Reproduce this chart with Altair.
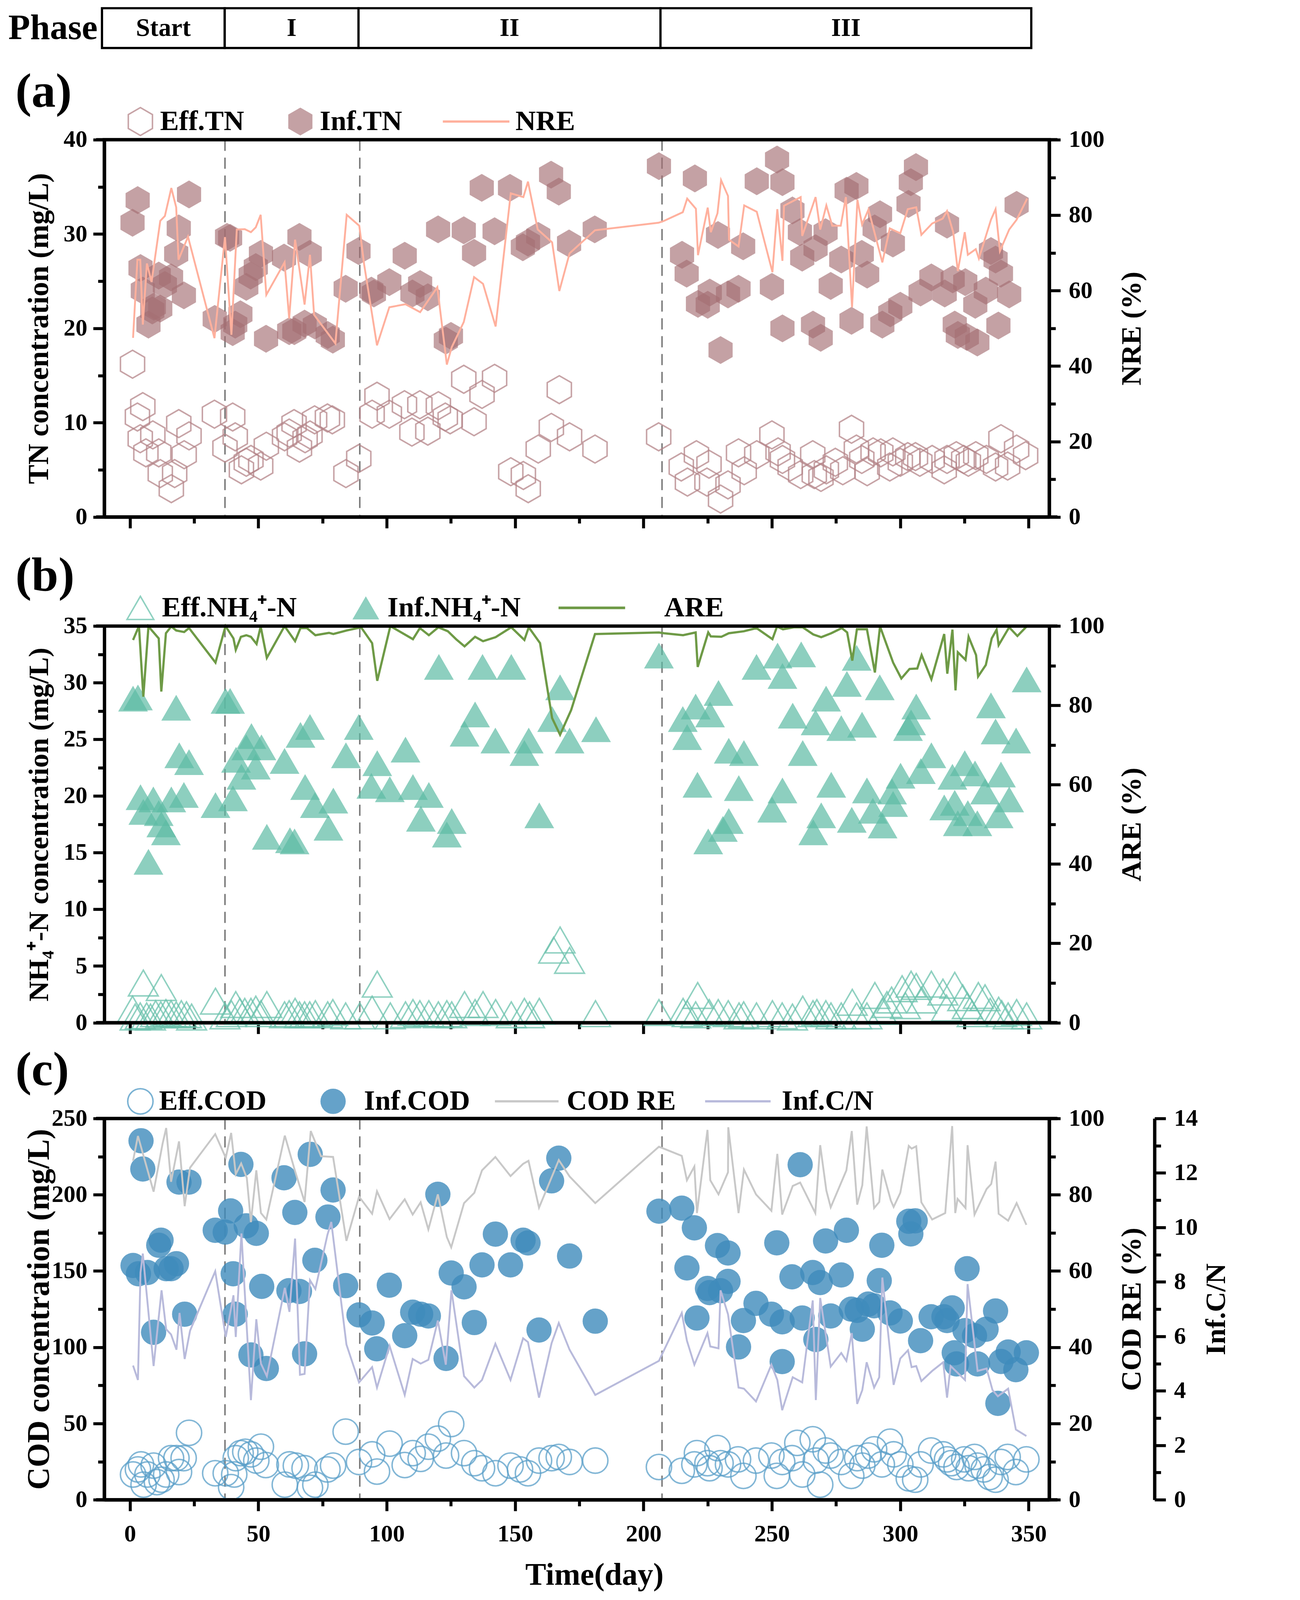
import altair as alt
import pandas as pd

FONT = "Liberation Serif"
K = 1 / 1.05          # reference-pixel -> chart-pixel factor


def px(v):
    return round(v * K, 2)


def area(v):
    return round(v * K * K, 1)


W_REF = 2540
W = px(W_REF)
HA_REF, HB_REF, HC_REF = 1014, 1066, 1025
H_A, H_B, H_C = px(HA_REF), px(HB_REF), px(HC_REF)
B_OFF = 36                       # extra room above panel (b) plot (reference px)
H_B_TOTAL = px(HB_REF + B_OFF)
H_P = px(96)
SPACING = px(257)
X_DOMAIN = [-10, 358]
EXT = 22                         # how far the horizontal frame lines overhang

# ---------------- Phase bar ----------------
phase_names = ["Start", "I", "II", "III"]
phase_start = [-10.9, 36.9, 89.0, 206.6]
phase_end = [36.9, 89.0, 206.6, 351.0]
phase_lines = [37.0, 89.5, 207.2]

# ---------------- Panel (a) TN ----------------
eff_tn_day = [1, 2.9, 4, 5, 6.2, 8.9, 11.2, 11.8, 16.1, 17.4,
              19, 21.1, 23, 32.9, 37, 40, 41, 43.4, 45.3, 47.1,
              50.9, 53.1, 60.2, 62, 63.9, 66, 68.2, 70.1, 71.9, 76.9,
              78.8, 84.1, 89.1, 94.3, 96.2, 101, 106.9, 109.8, 112.9, 116,
              120.1, 122.8, 124.7, 130, 134, 137.1, 142, 148.3, 153.2, 155.1,
              159, 164.1, 167.2, 171.2, 181.1, 205.9, 214.7, 217.1, 220.6, 224.7,
              225.5, 230, 232.9, 237, 239.2, 244.1, 250, 252.4, 254.1, 257.1,
              261.2, 265.9, 266.5, 269.1, 271.2, 274.7, 277.6, 281, 282.9, 285,
              287.1, 289.4, 292.4, 295.9, 297.1, 300, 302.9, 305.9, 307.6, 312.4,
              317.1, 318.2, 321.8, 324.7, 326.5, 329.4, 333.5, 337.1, 339.2, 341.8,
              345.3, 348.8]
eff_tn_val = [16.2, 10.6, 8.3, 11.7, 6.8, 8.7, 6.8, 4.6, 3.0, 4.6,
              9.9, 6.6, 8.6, 10.9, 7.3, 10.6, 8.5, 5.0, 5.8, 6.1,
              5.4, 7.5, 8.5, 8.9, 9.9, 7.3, 8.3, 8.7, 10.3, 10.5,
              10.3, 4.6, 6.2, 10.9, 12.8, 10.9, 11.9, 9.0, 11.9, 9.1,
              11.8, 10.6, 10.3, 14.6, 10.1, 13.0, 14.7, 4.8, 4.4, 3.0,
              7.2, 9.5, 13.5, 8.5, 7.2, 8.5, 5.3, 3.7, 6.6, 3.7,
              5.6, 1.9, 3.4, 6.8, 4.9, 6.6, 8.7, 6.9, 6.1, 5.3,
              4.5, 6.6, 4.5, 4.2, 5.0, 5.8, 4.9, 9.3, 7.2, 6.1,
              4.8, 6.9, 6.8, 5.3, 6.9, 5.8, 6.4, 6.4, 5.8, 6.1,
              5.0, 6.1, 6.5, 6.1, 5.8, 6.5, 6.1, 5.3, 8.3, 5.4,
              7.2, 6.5]
inf_tn_day = [1.0, 3.0, 4.1, 5.0, 7.2, 8.7, 9.3, 11.2, 11.8, 13.6,
              16.0, 18.0, 19.0, 21.0, 23.0, 33.0, 37.8, 39.0, 40.0, 41.0,
              43.0, 45.3, 47.0, 49.0, 51.0, 53.0, 60.0, 62.0, 64.0, 66.0,
              68.0, 70.0, 72.0, 77.0, 79.0, 84.0, 89.0, 94.0, 95.0, 101.0,
              107.0, 110.0, 113.0, 116.0, 120.0, 123.0, 125.0, 130.0, 134.0, 137.0,
              142.0, 148.0, 153.0, 155.0, 159.0, 164.0, 167.0, 171.0, 181.0, 206.0,
              215.0, 216.8, 220.0, 221.2, 225.0, 225.8, 229.0, 230.0, 232.9, 237.0,
              238.8, 244.1, 250.0, 252.0, 254.1, 254.1, 258.0, 260.9, 261.8, 266.0,
              267.0, 269.0, 270.9, 272.9, 277.0, 279.1, 281.0, 282.9, 285.0, 287.1,
              290.0, 292.1, 293.0, 296.1, 297.1, 300.0, 303.2, 304.1, 306.1, 307.9,
              312.1, 317.3, 318.2, 320.4, 321.2, 322.4, 325.3, 325.9, 329.2, 330.0,
              333.3, 335.3, 337.1, 338.2, 339.2, 342.4, 345.3]
inf_tn_val = [31.2, 33.6, 26.4, 24.0, 20.4, 21.9, 22.3, 25.6, 22.1, 24.6,
              25.4, 27.9, 30.6, 23.5, 34.2, 21.0, 29.7, 29.6, 19.6, 20.4,
              21.5, 24.4, 25.6, 26.5, 27.9, 18.9, 27.5, 19.7, 19.7, 29.7,
              20.5, 27.9, 20.3, 19.3, 18.8, 24.2, 28.2, 24.0, 23.7, 24.9,
              27.7, 23.7, 24.7, 23.3, 30.5, 18.7, 19.2, 30.4, 28.0, 34.9,
              30.3, 34.9, 28.6, 29.1, 29.8, 36.3, 34.5, 29.0, 30.5, 37.2,
              27.8, 25.8, 35.9, 22.6, 22.5, 23.8, 29.9, 17.7, 23.6, 24.2,
              28.7, 35.6, 24.4, 37.9, 35.5, 20.0, 32.5, 30.2, 27.5, 20.4,
              28.5, 19.0, 30.2, 24.5, 27.3, 34.6, 20.8, 35.1, 27.9, 25.7,
              30.6, 32.1, 20.4, 21.6, 29.0, 22.4, 33.2, 35.5, 37.1, 23.8,
              25.4, 23.7, 31.0, 25.2, 20.4, 19.3, 24.9, 19.1, 22.5, 18.5,
              24.0, 28.2, 27.3, 20.3, 25.8, 23.6, 33.1]
nre_day = [1.2, 2.9, 4.0, 5.0, 6.6, 8.4, 11.8, 13.6, 16.1, 18.0,
           18.9, 22.6, 32.9, 37.0, 39.5, 41.6, 44.7, 47.1, 49.0, 50.9,
           53.1, 60.2, 62.0, 64.3, 68.0, 70.1, 71.7, 80.0, 84.4, 89.3,
           91.2, 96.2, 101.0, 107.3, 113.0, 119.7, 123.4, 125.3, 130.0, 134.0,
           137.5, 142.4, 148.3, 153.2, 155.0, 158.8, 164.4, 167.2, 171.2, 181.1,
           205.9, 208.0, 215.3, 217.0, 220.4, 221.2, 225.0, 226.2, 228.8, 230.2,
           232.9, 233.3, 237.0, 239.2, 244.1, 250.2, 252.1, 254.1, 254.7, 261.2,
           261.8, 267.0, 268.8, 271.2, 273.5, 276.8, 278.8, 281.2, 283.3, 285.1,
           287.6, 293.0, 295.9, 300.0, 302.9, 306.2, 308.2, 312.4, 316.5, 318.2,
           320.6, 322.4, 325.1, 326.3, 329.4, 330.6, 335.3, 337.1, 338.8, 342.4,
           345.3, 349.4]
nre_val = [47.5, 68.2, 68.2, 51.0, 67.2, 62.3, 78.5, 79.8, 87.2, 82.1,
           68.2, 74.3, 47.4, 74.2, 48.3, 76.2, 76.3, 75.5, 76.8, 80.1,
           58.9, 67.5, 52.6, 73.5, 56.3, 69.5, 53.6, 46.0, 80.1, 77.2,
           66.9, 45.5, 55.6, 56.4, 54.3, 60.9, 40.4, 45.0, 51.7, 63.6,
           61.8, 50.5, 85.8, 84.8, 88.9, 76.2, 72.8, 59.9, 69.9, 76.0,
           78.0, 78.5, 80.8, 84.4, 81.7, 69.4, 82.0, 75.5, 80.5, 89.3,
           85.1, 73.5, 71.7, 82.6, 80.9, 64.9, 81.6, 67.9, 82.5, 84.8,
           74.5, 84.8, 76.2, 82.6, 77.2, 77.2, 84.8, 55.6, 84.1, 77.5,
           81.5, 67.5, 76.5, 75.2, 81.6, 82.1, 74.8, 77.8, 79.1, 81.1,
           75.5, 65.2, 75.5, 69.5, 71.0, 68.5, 78.8, 81.6, 70.5, 76.2,
           78.8, 84.4]

# ---------------- Panel (b) NH4+-N ----------------
eff_nh_day = [1.0, 2.0, 4.0, 5.2, 6.5, 8.0, 10.0, 12.2, 12.0, 14.0,
              16.0, 18.0, 20.0, 22.0, 24.0, 33.3, 37.0, 39.5, 41.2, 42.8,
              44.7, 47.1, 49.0, 51.0, 53.3, 60.2, 62.0, 64.3, 66.0, 68.0,
              70.0, 72.2, 77.0, 79.0, 84.0, 89.5, 94.3, 96.3, 101.4, 107.3,
              110.2, 112.9, 116.4, 120.1, 123.4, 125.3, 130.3, 134.4, 137.5, 142.4,
              148.5, 153.6, 155.6, 159.4, 165.0, 167.5, 171.2, 181.3, 206.0, 215.4,
              217.0, 220.3, 221.1, 225.6, 229.1, 233.0, 237.2, 239.0, 244.0, 250.2,
              254.0, 258.0, 262.0, 266.0, 267.5, 271.0, 273.0, 277.0, 281.3, 283.0,
              287.0, 290.1, 293.0, 294.8, 296.6, 300.7, 302.0, 304.2, 306.2, 308.3,
              312.1, 316.6, 318.0, 321.2, 324.3, 326.1, 328.0, 330.4, 333.0, 335.0,
              338.3, 339.5, 342.0, 345.3, 349.2]
eff_nh_val = [1.2, 0.5, 0.6, 3.5, 0.6, 0.5, 0.8, 3.1, 0.7, 0.9,
              0.8, 0.7, 0.8, 0.7, 0.5, 1.9, 0.6, 0.8, 1.6, 1.0,
              1.0, 1.0, 1.2, 0.8, 1.6, 0.7, 0.8, 1.0, 0.7, 0.7,
              0.7, 0.8, 0.7, 0.9, 0.6, 0.6, 1.2, 3.4, 0.6, 0.7,
              0.9, 0.8, 0.8, 0.7, 0.8, 0.7, 1.6, 0.9, 1.6, 0.9,
              0.7, 1.0, 0.7, 1.0, 6.4, 7.3, 5.5, 0.8, 0.9, 1.0,
              0.8, 0.7, 2.4, 0.9, 0.9, 0.8, 0.6, 0.7, 0.6, 0.8,
              0.6, 0.5, 1.2, 0.8, 0.9, 0.8, 0.6, 0.6, 1.8, 0.6,
              0.6, 2.4, 1.0, 1.6, 2.0, 3.0, 1.5, 3.4, 3.2, 2.0,
              3.4, 2.7, 1.3, 3.3, 2.2, 1.5, 0.8, 2.4, 2.2, 1.0,
              1.1, 0.8, 0.6, 0.9, 0.6]
inf_nh_day = [1.2, 3.1, 18.0, 4.1, 9.1, 5.2, 11.2, 12.2, 14.0, 16.1,
              21.0, 19.2, 23.0, 7.2, 33.3, 37.2, 39.0, 40.1, 41.3, 43.4,
              45.3, 47.3, 49.0, 51.2, 53.3, 60.2, 62.3, 64.1, 66.4, 70.1,
              68.2, 72.0, 79.2, 77.3, 84.1, 89.1, 96.3, 94.0, 101.2, 107.3,
              110.2, 116.4, 113.3, 125.3, 123.4, 120.3, 137.3, 148.5, 134.4, 130.3,
              142.3, 155.3, 153.6, 159.4, 167.5, 164.4, 171.2, 181.5,
              206.0, 220.3, 215.3, 217.0, 225.9, 229.2, 221.0, 233.2, 239.1, 237.1,
              233.2, 230.9, 225.2, 244.0, 252.2, 261.4, 254.1, 258.1, 262.0, 254.1,
              250.1, 271.1, 267.0, 277.0, 279.2, 283.0, 285.1, 273.1, 269.2, 266.1,
              281.1, 287.0, 289.3, 293.1, 292.0, 296.8, 297.2, 300.1, 303.0, 304.2,
              306.2, 308.0, 312.1, 320.3, 325.1, 329.1, 317.1, 321.2, 322.4, 326.3,
              330.0, 333.0, 339.2, 342.4, 338.3, 335.3, 337.1, 345.1, 349.2]
inf_nh_val = [28.6, 28.7, 27.8, 19.9, 19.7, 18.6, 18.5, 17.5, 16.8, 19.7,
              20.1, 23.6, 23.0, 14.2, 19.2, 28.4, 28.4, 19.8, 23.2, 21.7,
              24.3, 25.3, 22.6, 24.3, 16.4, 23.1, 16.1, 16.0, 25.4, 26.1,
              20.8, 19.2, 19.6, 17.2, 23.6, 26.1, 22.9, 20.9, 20.6, 24.1,
              20.8, 20.1, 18.0, 17.8, 16.6, 31.4, 31.4, 31.4, 27.2, 25.5,
              24.9, 24.9, 23.8, 18.3, 29.6, 26.8, 24.9, 25.9,
              32.4, 27.9, 26.8, 25.2, 27.2, 29.1, 21.0, 24.0, 23.8, 20.7,
              17.8, 17.1, 16.0, 31.4, 32.4, 32.5, 30.6, 27.1, 23.8, 20.5,
              18.8, 28.6, 26.5, 26.0, 29.9, 32.2, 26.3, 21.0, 18.3, 16.8,
              17.9, 20.5, 18.7, 17.4, 29.6, 20.4, 19.3, 21.8, 26.0, 26.5,
              27.9, 22.2, 23.6, 21.7, 22.9, 22.0, 19.0, 19.4, 17.6, 18.5,
              17.6, 20.4, 21.9, 19.7, 18.3, 28.0, 25.7, 24.9, 30.3]
are_day = [1.2, 3.5, 5.2, 7.2, 11.2, 12.2, 14.0, 16.1, 18.0, 21.1,
           23.0, 33.3, 37.2, 40.3, 41.2, 43.2, 45.3, 47.1, 49.3, 50.9,
           53.3, 60.2, 64.3, 66.4, 68.9, 72.2, 77.5, 79.2, 84.4, 90.0,
           94.3, 96.3, 101.4, 110.2, 112.9, 116.4, 120.1, 123.8, 127.0, 130.3,
           134.4, 137.5, 142.4, 148.5, 153.6, 155.3, 159.7, 164.4, 167.5, 171.8,
           181.1, 206.0, 208.0, 215.4, 220.3, 221.1, 225.2, 226.2, 230.3, 233.2,
           239.1, 244.0, 250.2, 252.0, 254.3, 258.5, 262.0, 266.1, 269.2, 273.1,
           277.2, 279.3, 281.3, 283.1, 287.0, 290.1, 292.1, 297.2, 300.4, 303.6,
           306.6, 308.3, 312.1, 317.1, 318.3, 320.3, 321.5, 322.4, 325.4, 326.6,
           329.5, 330.3, 333.3, 335.6, 337.5, 338.3, 342.4, 345.6, 349.2]
are_val = [96.5, 100, 82.2, 99.9, 96.9, 83.5, 98.2, 99.9, 98.9, 98.5,
           99.5, 90.8, 100, 96.9, 94.0, 97.3, 97.7, 97.3, 95.5, 99.9,
           92.0, 100, 96.2, 99.5, 99.5, 97.7, 98.3, 98.0, 98.9, 99.7,
           95.7, 86.2, 100, 96.7, 99.5, 97.7, 99.7, 98.7, 96.7, 94.9,
           97.3, 96.2, 97.2, 99.7, 96.5, 99.7, 95.7, 76.8, 72.6, 78.8,
           98.0, 98.4, 98.2, 97.7, 98.4, 89.7, 98.4, 97.4, 97.3, 98.2,
           98.7, 99.5, 96.7, 99.9, 99.2, 99.7, 99.7, 97.9, 97.2, 98.2,
           99.5, 98.4, 91.3, 99.2, 99.2, 88.3, 99.9, 90.8, 86.8, 89.2,
           89.3, 92.7, 86.6, 98.0, 88.0, 99.1, 83.8, 93.4, 91.5, 97.3,
           92.7, 87.3, 90.2, 96.9, 99.1, 95.2, 99.7, 97.5, 99.9]

# ---------------- Panel (c) COD ----------------
eff_cod_day = [1.2, 3.1, 4.3, 5.3, 6.8, 9.2, 10.5, 12.3, 14.1, 16.0,
               18.1, 19.1, 20.9, 23.0, 33.2, 37.3, 39.4, 40.6, 41.2, 43.1,
               44.9, 47.1, 49.2, 51.0, 52.9, 60.3, 62.1, 64.6, 68.0, 70.1,
               72.2, 76.9, 79.1, 84.0, 89.2, 94.3, 96.2, 101.1, 107.0, 110.1,
               113.2, 116.2, 119.9, 123.1, 125.1, 130.1, 134.1, 137.1, 142.3, 148.2,
               151.9, 155.0, 159.3, 164.2, 167.0, 171.2, 181.2, 206.0, 214.9, 219.8,
               220.8, 224.9, 225.7, 228.8, 230.0, 232.9, 236.8, 238.9, 243.8, 249.8,
               251.9, 254.0, 257.8, 259.9, 261.8, 265.9, 267.1, 268.8, 270.9, 272.9,
               277.0, 280.9, 283.2, 285.2, 287.5, 289.8, 292.8, 296.0, 297.4, 300.0,
               303.3, 305.8, 307.9, 312.0, 316.7, 318.2, 319.8, 321.9, 324.9, 326.6,
               328.9, 330.1, 332.5, 334.8, 337.1, 339.2, 341.8, 345.0, 349.1]
eff_cod_val = [16.6, 19.9, 23.2, 9.9, 16.6, 22.4, 11.6, 13.2, 16.6, 27.3,
               27.3, 18.2, 27.3, 43.9, 17.4, 17.4, 8.3, 16.6, 27.3, 30.6,
               31.5, 29.8, 25.7, 34.8, 22.8, 9.9, 23.2, 22.4, 20.7, 7.9,
               9.9, 19.9, 22.4, 44.7, 24.8, 29.8, 18.5, 36.8, 22.8, 30.6,
               26.8, 34.8, 40.1, 29.0, 49.7, 30.6, 24.0, 20.7, 17.4, 22.4,
               19.9, 17.4, 25.7, 27.3, 28.1, 24.8, 25.7, 21.5, 19.0, 23.2,
               30.6, 24.0, 20.7, 33.9, 24.0, 23.2, 26.5, 15.7, 25.7, 29.0,
               15.7, 24.8, 27.3, 37.3, 16.6, 39.7, 25.7, 9.9, 32.3, 29.0,
               24.8, 15.7, 27.3, 22.4, 29.0, 33.1, 23.2, 38.1, 29.8, 23.2,
               14.1, 13.2, 23.2, 32.3, 29.8, 26.5, 24.0, 21.5, 26.5, 20.7,
               28.1, 22.4, 19.9, 14.9, 13.2, 24.8, 28.1, 18.2, 26.5]
inf_cod_day = [4.3, 5.0, 19.1, 23.0, 43.2, 60.0, 70.2, 79.1, 64.2, 77.1,
               39.2, 33.2, 37.1, 45.3, 49.2, 12.1, 11.2, 1.2, 3.3, 6.8,
               14.1, 16.0, 18.1, 9.2, 21.3, 40.2, 41.0, 51.3, 61.9, 66.0,
               72.0, 47.1, 53.1, 68.0, 84.0, 89.2, 94.3, 96.1, 101.0, 107.0,
               110.1, 113.2, 116.2, 123.1, 119.9, 125.1, 130.1, 134.1, 137.1, 142.3,
               148.2, 153.1, 155.0, 159.3, 164.2, 167.0, 171.2, 181.2,
               206.0, 214.9, 219.8, 228.8, 232.9, 216.9, 224.9, 225.7, 230.0, 232.9,
               220.8, 237.0, 238.9, 243.8, 249.8, 251.9, 254.0, 254.0, 257.8, 261.0,
               261.8, 265.9, 268.8, 267.1, 270.9, 272.9, 277.0, 279.0, 280.9, 283.2,
               285.2, 287.5, 289.8, 291.8, 292.8, 296.0, 300.0, 303.3, 305.8, 304.1,
               307.9, 312.0, 317.0, 318.2, 320.2, 326.0, 321.0, 321.9, 325.2, 328.9,
               330.1, 333.4, 337.1, 339.2, 338.0, 342.0, 345.0, 349.1]
inf_cod_val = [235.4, 216.9, 208.3, 208.3, 219.9, 211.1, 226.5, 203.1, 188.4, 185.4,
               189.4, 176.7, 175.5, 179.6, 174.7, 170.2, 166.9, 153.6, 148.2, 149.0,
               151.5, 151.5, 154.8, 109.8, 121.7, 148.2, 121.7, 139.9, 137.1, 136.6,
               157.0, 95.0, 86.1, 95.7, 140.4, 121.2, 115.9, 99.0, 140.7, 107.6,
               123.0, 121.7, 120.5, 92.7, 200.3, 148.7, 139.6, 116.2, 154.0, 174.2,
               154.0, 170.2, 168.4, 111.3, 209.1, 224.0, 159.8, 117.1,
               189.2, 191.2, 178.3, 166.7, 161.8, 152.0, 138.6, 135.8, 137.1, 143.2,
               119.2, 100.2, 117.5, 128.8, 121.7, 168.5, 116.7, 90.6, 146.2, 219.7,
               119.2, 149.0, 142.4, 105.1, 169.7, 120.5, 147.4, 176.7, 125.0, 124.2,
               111.8, 128.3, 127.2, 143.7, 166.9, 122.5, 117.2, 182.6, 182.9, 174.3,
               104.3, 120.0, 120.0, 117.5, 125.8, 151.5, 96.4, 89.1, 110.9, 107.6,
               89.1, 111.8, 123.8, 90.7, 63.2, 96.9, 85.3, 96.4]
codre_day = [1.2, 3.1, 9.2, 12.7, 14.1, 16.0, 19.1, 21.3, 23.4, 33.2,
             37.3, 39.4, 41.2, 43.3, 45.5, 47.1, 49.2, 51.0, 53.1, 60.3,
             64.2, 68.0, 70.4, 74.4, 79.1, 84.3, 89.2, 94.3, 96.2, 101.1,
             107.0, 110.1, 113.2, 116.2, 119.9, 123.4, 125.1, 130.1, 134.1, 137.1,
             142.3, 148.2, 153.1, 155.2, 159.3, 167.0, 171.2, 181.2, 206.0, 214.9,
             216.9, 219.8, 220.8, 224.9, 226.0, 229.2, 232.9, 233.0, 237.0, 239.1,
             243.8, 249.8, 252.1, 254.0, 258.1, 261.0, 266.9, 268.8, 271.2, 272.9,
             279.0, 281.1, 283.2, 285.2, 286.9, 289.8, 291.8, 293.0, 296.3, 297.4,
             300.0, 303.3, 304.4, 306.2, 308.2, 312.4, 317.5, 320.2, 321.4, 322.3,
             325.4, 326.2, 328.9, 333.6, 335.4, 337.1, 338.3, 342.0, 345.3, 349.1]
codre_val = [88.9, 95.4, 80.8, 93.4, 97.5, 83.4, 94.0, 77.0, 87.1, 95.9,
             89.7, 96.2, 85.4, 88.2, 84.4, 72.8, 86.4, 75.2, 73.5, 95.5,
             86.4, 78.1, 96.7, 90.1, 89.9, 67.9, 79.5, 75.0, 80.9, 73.6,
             78.8, 74.8, 78.0, 70.9, 80.1, 68.9, 66.2, 77.8, 80.5, 86.4,
             89.9, 84.9, 88.1, 88.9, 76.6, 89.1, 84.8, 77.8, 92.6, 90.2,
             83.8, 87.4, 75.2, 97.0, 83.8, 80.1, 85.9, 97.7, 75.2, 86.6,
             80.1, 75.8, 90.7, 74.8, 82.3, 83.2, 75.2, 93.0, 81.1, 76.7,
             86.4, 96.7, 77.4, 82.5, 97.9, 76.5, 78.1, 86.6, 78.5, 76.8,
             80.5, 92.8, 92.1, 92.7, 78.0, 73.5, 75.2, 98.0, 75.2, 78.9,
             76.5, 93.0, 74.8, 81.5, 82.8, 88.7, 75.0, 73.2, 77.8, 72.1]
cn_day = [1.2, 3.1, 4.1, 5.0, 9.2, 12.3, 14.1, 16.0, 18.1, 19.3,
          21.3, 23.4, 33.2, 37.3, 40.3, 41.2, 43.4, 47.1, 49.2, 51.0,
          53.3, 60.3, 62.1, 64.3, 66.2, 68.0, 70.1, 72.2, 76.9, 78.4,
          84.3, 89.2, 94.3, 96.2, 101.1, 107.0, 110.1, 113.2, 116.2, 119.9,
          123.0, 125.2, 130.1, 134.1, 137.1, 142.3, 148.2, 153.1, 155.0, 159.3,
          164.2, 167.0, 171.2, 181.2, 206.0, 214.9, 216.9, 219.8, 224.9, 226.0,
          229.2, 230.0, 232.9, 237.0, 239.1, 243.8, 249.8, 252.1, 254.0, 258.1,
          261.8, 265.9, 267.1, 268.8, 272.9, 277.0, 279.0, 281.1, 283.2, 285.2,
          286.9, 289.8, 291.8, 293.0, 295.1, 297.4, 300.0, 303.0, 304.4, 306.2,
          308.2, 312.4, 316.7, 318.2, 319.6, 325.2, 326.2, 330.1, 333.6, 335.9,
          338.0, 342.0, 345.0, 349.1]
cn_val = [4.93, 4.40, 8.34, 9.04, 4.91, 7.69, 6.26, 6.07, 5.51, 6.86,
          5.17, 6.21, 8.39, 5.98, 7.51, 5.98, 9.78, 3.66, 6.63, 5.00,
          4.54, 7.78, 6.90, 9.59, 4.59, 4.62, 8.06, 7.74, 9.73, 10.2,
          5.70, 4.31, 4.87, 4.12, 5.65, 3.85, 5.17, 5.00, 5.14, 6.58,
          4.96, 7.69, 4.54, 4.12, 4.40, 5.73, 4.40, 5.93, 5.79, 3.75,
          5.75, 6.49, 5.51, 3.85, 5.10, 6.86, 5.84, 4.96, 6.12, 5.63,
          5.56, 7.69, 6.81, 4.12, 4.08, 3.61, 4.96, 4.40, 3.29, 4.50,
          4.31, 7.32, 3.66, 7.41, 4.89, 5.39, 5.10, 6.12, 3.52, 4.03,
          5.05, 4.12, 4.50, 8.16, 6.26, 4.22, 5.19, 5.49, 4.87, 4.91,
          4.36, 4.73, 5.05, 3.75, 4.91, 4.40, 7.92, 4.73, 4.82, 4.03,
          3.80, 4.08, 2.58, 2.34]

# ---------------- styling ----------------
HEX = "M0,-1L0.866,-0.5L0.866,0.5L0,1L-0.866,0.5L-0.866,-0.5Z"
TRI = "M0,-0.866L1,0.866L-1,0.866Z"
TN_INF, TN_EFF, NRE_C = "#a46f73", "#b58589", "#ffb09d"
NH_INF, NH_EFF, ARE_C = "#5dbba4", "#6cc2ad", "#6e9a46"
COD_INF, COD_EFF, CODRE_C, CN_C = "#3f8bbb", "#5a9fc9", "#c8c8c8", "#b8badb"
TICK_MAJOR, TICK_MINOR = px(30), px(17)
SW = px(4)


def frame(d, v):
    n = min(len(d), len(v))
    return pd.DataFrame({"day": d[:n], "v": v[:n]})


one = pd.DataFrame({"k": [0]})
X_TICKS = list(range(0, 351, 25))
X_MAJOR = "datum.value % 50 === 0"


def xscale():
    return alt.Scale(domain=X_DOMAIN, nice=False, zero=False)


def yscale(lo, hi, top=0.0, bottom=None):
    kw = dict(domain=[lo, hi], nice=False)
    if bottom is not None:
        kw["range"] = [bottom, top]
    return alt.Scale(**kw)


def x_axis(show_labels):
    kw = dict(values=X_TICKS,
              tickSize={"condition": {"test": X_MAJOR, "value": TICK_MAJOR}, "value": TICK_MINOR})
    if show_labels:
        kw.update(labelExpr=f"{X_MAJOR} ? datum.label : ''", labelPadding=px(31), title="Time(day)",
                  titleX=px(1317), titleY=px(203), titleBaseline="middle", titleAlign="center",
                  titleFontSize=px(84))
    else:
        kw.update(labels=False, title=None)
    return alt.Axis(**kw)


def y_axis(title, vmax, step, major, title_y, orient="left", offset=0, title_x=-175, tsize=78):
    n = int(round(vmax / step))
    vals = [round(i * step, 4) for i in range(n + 1)]
    test = f"abs(datum.value/{major} - round(datum.value/{major})) < 0.001"
    return alt.Axis(values=vals, title=title, orient=orient, offset=px(offset), format="d",
                    labelExpr=f"{test} ? datum.label : ''",
                    tickSize={"condition": {"test": test, "value": TICK_MAJOR}, "value": TICK_MINOR},
                    labelPadding=px(16) if orient == "left" else px(22),
                    titleAngle=270, titleX=px(title_x), titleY=title_y, titleFontSize=px(tsize),
                    titleAlign="center", titleBaseline="middle")


def pts(df, shape, size, color, filled, opacity, xax, yenc):
    mk = dict(shape=shape, size=area(size), filled=filled, color=color, opacity=opacity)
    if not filled:
        mk["strokeWidth"] = SW
    return alt.Chart(df).mark_point(**mk).encode(
        x=alt.X("day:Q", scale=xscale(), axis=xax), y=yenc)


def line(df, color, width, xax, yenc):
    return alt.Chart(df).mark_line(color=color, strokeWidth=px(width)).encode(
        x=alt.X("day:Q", scale=xscale(), axis=xax), y=yenc)


def dashed(xax, y0=None, y1=None):
    enc = dict(x=alt.X("day:Q", scale=xscale(), axis=xax))
    if y0 is not None:
        enc.update(y=alt.value(y0), y2=alt.value(y1))
    return alt.Chart(pd.DataFrame({"day": phase_lines})).mark_rule(
        color="#7a7a7a", strokeWidth=px(4), strokeDash=[px(30), px(18)]).encode(**enc)


def sym(shape, size, color, filled, opacity, x, y):
    mk = dict(shape=shape, size=area(size), filled=filled, color=color, opacity=opacity)
    if not filled:
        mk["strokeWidth"] = SW
    return alt.Chart(one).mark_point(**mk).encode(x=alt.value(px(x)), y=alt.value(px(y)))


def txt(s, x, y, size, align="left"):
    return alt.Chart(one).mark_text(text=s, font=FONT, fontSize=px(size), fontWeight="bold",
                                    align=align, baseline="middle", color="black").encode(
        x=alt.value(px(x)), y=alt.value(px(y)))


def seg(color, sw, x1, x2, y):
    return alt.Chart(one).mark_rule(color=color, strokeWidth=px(sw)).encode(
        x=alt.value(px(x1)), x2=alt.value(px(x2)), y=alt.value(px(y)))


def frame_line(y):
    return seg("black", 9, -EXT, W_REF + EXT, y)


LEG = 76

# ---------- phase chart ----------
phase_df = pd.DataFrame({"name": phase_names, "start": phase_start, "end": phase_end})
phase_rect = alt.Chart(phase_df).mark_rect(fill="white", stroke="black", strokeWidth=px(6)).encode(
    x=alt.X("start:Q", scale=xscale(), axis=None), x2="end:Q",
    y=alt.value(0), y2=alt.value(px(107)))
phase_txt = alt.Chart(phase_df).transform_calculate(mid="(datum.start + datum.end) / 2").mark_text(
    font=FONT, fontSize=px(68), fontWeight="bold", baseline="middle", color="black").encode(
    x=alt.X("mid:Q", scale=xscale(), axis=None), y=alt.value(px(55)), text="name:N")
phase = alt.layer(phase_rect, phase_txt, txt("Phase", -18, 55, 96, "right")).properties(
    width=W, height=H_P, view=alt.ViewBackground(strokeOpacity=0))

# ---------- panel a ----------
xa = x_axis(False)
ya = alt.Y("v:Q", scale=yscale(0, 40),
           axis=y_axis("TN concentration (mg/L)", 40, 5, 10, H_A / 2))
ya2 = alt.Y("v:Q", scale=yscale(0, 100),
            axis=y_axis("NRE (%)", 100, 10, 20, H_A / 2, orient="right", title_x=222, tsize=76))
inner_a = alt.layer(dashed(xa),
                    pts(frame(eff_tn_day, eff_tn_val), HEX, 5625, TN_EFF, False, 0.75, xa, ya),
                    pts(frame(inf_tn_day, inf_tn_val), HEX, 5625, TN_INF, True, 0.65, xa, ya))
panel_a = alt.layer(
    inner_a,
    line(frame(nre_day, nre_val), NRE_C, 5, xa, ya2),
    frame_line(0), frame_line(HA_REF),
    sym(HEX, 5625, TN_EFF, False, 0.75, 97, -49), txt("Eff.TN", 150, -49, LEG),
    sym(HEX, 5625, TN_INF, True, 0.65, 527, -49), txt("Inf.TN", 579, -49, LEG),
    seg(NRE_C, 6, 910, 1089, -49), txt("NRE", 1105, -49, LEG),
    txt("(a)", -239, -128, 130),
).resolve_scale(y="independent").properties(width=W, height=H_A)

# ---------- panel b (plot area starts B_OFF below the top of its box) ----------
b_top = px(B_OFF)
xb = x_axis(False)
yb = alt.Y("v:Q", scale=yscale(0, 35, top=b_top, bottom=H_B_TOTAL),
           axis=y_axis("NH\u2084\u207a-N concentration (mg/L)", 35, 2.5, 5, b_top + H_B / 2, tsize=76))
yb2 = alt.Y("v:Q", scale=yscale(0, 100, top=b_top, bottom=H_B_TOTAL),
            axis=y_axis("ARE (%)", 100, 10, 20, b_top + H_B / 2, orient="right", title_x=222, tsize=76))
inner_b = alt.layer(dashed(xb, b_top, H_B_TOTAL),
                    pts(frame(eff_nh_day, eff_nh_val), TRI, 6400, NH_EFF, False, 0.75, xb, yb),
                    pts(frame(inf_nh_day, inf_nh_val), TRI, 6400, NH_INF, True, 0.7, xb, yb))
panel_b = alt.layer(
    inner_b,
    line(frame(are_day, are_val), ARE_C, 6, xb, yb2),
    frame_line(B_OFF), frame_line(B_OFF + HB_REF),
    sym(TRI, 5184, NH_EFF, False, 0.75, 97, B_OFF - 49), txt("Eff.NH\u2084\u207a-N", 155, B_OFF - 49, LEG),
    sym(TRI, 5184, NH_INF, True, 0.7, 703, B_OFF - 49), txt("Inf.NH\u2084\u207a-N", 761, B_OFF - 49, LEG),
    seg(ARE_C, 7, 1221, 1400, B_OFF - 49), txt("ARE", 1505, B_OFF - 49, LEG),
    txt("(b)", -239, B_OFF - 134, 130),
).resolve_scale(y="independent").properties(
    width=W, height=H_B_TOTAL, view=alt.ViewBackground(strokeOpacity=0))

# ---------- panel c ----------
xc = x_axis(True)
yc = alt.Y("v:Q", scale=yscale(0, 250),
           axis=y_axis("COD concentration (mg/L)", 250, 25, 50, H_C / 2, tsize=84))
yc2 = alt.Y("v:Q", scale=yscale(0, 100),
            axis=y_axis("COD RE (%)", 100, 10, 20, H_C / 2, orient="right", title_x=222, tsize=76))
yc3 = alt.Y("v:Q", scale=yscale(0, 14),
            axis=y_axis("Inf.C/N", 14, 1, 2, H_C / 2, orient="right", offset=283, title_x=166, tsize=76))
inner_c = alt.layer(dashed(xc),
                    pts(frame(eff_cod_day, eff_cod_val), "circle", 4624, COD_EFF, False, 0.75, xc, yc),
                    pts(frame(inf_cod_day, inf_cod_val), "circle", 4624, COD_INF, True, 0.8, xc, yc))
panel_c = alt.layer(
    inner_c,
    line(frame(codre_day, codre_val), CODRE_C, 5, xc, yc2),
    line(frame(cn_day, cn_val), CN_C, 5, xc, yc3),
    frame_line(0), frame_line(HC_REF),
    sym("circle", 4624, COD_EFF, False, 0.8, 97, -46), txt("Eff.COD", 147, -46, LEG),
    sym("circle", 4624, COD_INF, True, 0.8, 615, -46), txt("Inf.COD", 698, -46, LEG),
    seg(CODRE_C, 6, 1050, 1221, -46), txt("COD RE", 1243, -46, LEG),
    seg(CN_C, 6, 1615, 1791, -46), txt("Inf.C/N", 1821, -46, LEG),
    txt("(c)", -239, -128, 130),
).resolve_scale(y="independent").properties(width=W, height=H_C)

chart = alt.vconcat(phase, panel_a, panel_b, panel_c, spacing=SPACING, bounds="flush").properties(
    padding={"left": 13, "top": 10, "right": 5, "bottom": 5}
).configure_axis(
    domainColor="black", domainWidth=px(9), tickColor="black", tickWidth=px(8),
    labelFont=FONT, labelFontSize=px(64), labelFontWeight="bold", labelColor="black",
    titleFont=FONT, titleFontSize=px(80), titleFontWeight="bold", titleColor="black", grid=False
).configure_view(stroke="black", strokeWidth=px(9))

chart.save("out.html", embed_options={"renderer": "svg", "actions": False})
